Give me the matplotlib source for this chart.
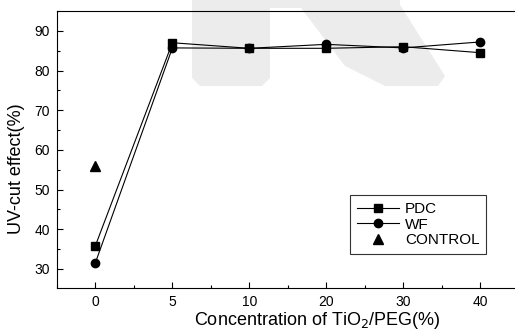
import matplotlib.pyplot as plt
from matplotlib.patches import Polygon
from matplotlib.ticker import MultipleLocator

plt.rcParams['font.family'] = ['Liberation Sans', 'DejaVu Sans']

# data
conc_labels = ['0', '5', '10', '20', '30', '40']
pdc = [35.9, 87.0, 85.6, 85.6, 86.0, 84.5]
wf = [31.6, 85.7, 85.6, 86.6, 85.7, 87.2]
control_x = [0]
control_y = [56.0]

W, H = 515, 331
fig = plt.figure(figsize=(W / 100, H / 100), dpi=100)

# faint watermark behind the chart (figure pixel coords, y from top)
def px(pts):
    return [(x / W, 1 - y / H) for x, y in pts]

grey = '#ececec'
shapes = [
    [(192, 0), (400, 0), (400, 8), (192, 8)],
    [(192, 0), (270, 0), (270, 78), (262, 86), (200, 86), (192, 78)],
    [(295, 0), (397, 0), (445, 76), (438, 86), (385, 86), (345, 66)],
]
for s in shapes:
    fig.patches.append(Polygon(px(s), closed=True, transform=fig.transFigure,
                               fc=grey, ec='none', zorder=-1))

ax = fig.add_axes([57 / W, (H - 288) / H, 461.5 / W, 277 / H])
ax.patch.set_alpha(0)

x = list(range(len(conc_labels)))
ax.plot(x, pdc, color='black', lw=0.8, marker='s', ms=5.5, label='PDC')
ax.plot(x, wf, color='black', lw=0.8, marker='o', ms=6, label='WF')
ax.plot(control_x, control_y, ls='none', color='black', marker='^', ms=6.5, label='CONTROL')

ax.set_xlim(-0.5, 5.5)
ax.set_ylim(25.2, 95)
ax.set_xticks(x)
ax.set_xticklabels(conc_labels)
ax.xaxis.set_minor_locator(MultipleLocator(0.5))
ax.yaxis.set_major_locator(MultipleLocator(10))
ax.yaxis.set_minor_locator(MultipleLocator(5))
ax.tick_params(which='both', direction='in', labelsize=10, width=0.8)
ax.tick_params(which='major', length=4, pad=5)
ax.tick_params(which='minor', length=2)
for s in ['left', 'bottom', 'top']:
    ax.spines[s].set_linewidth(0.8)
ax.spines['right'].set_visible(False)

ax.set_xlabel('Concentration of TiO$_2$/PEG(%)', fontsize=13)
ax.set_ylabel('UV-cut effect(%)', fontsize=13)
ax.xaxis.set_label_coords(0.565, -0.08)
ax.yaxis.set_label_coords(-0.069, 0.43)

leg = ax.legend(loc='lower left', bbox_to_anchor=((350 - 57) / 461.5, (288 - 254) / 277),
                fontsize=11, frameon=True, fancybox=False, edgecolor='black',
                handlelength=2.75, handletextpad=0.4, borderaxespad=0,
                labelspacing=0.1, borderpad=0.45)
leg.get_frame().set_linewidth(0.8)

fig.savefig('out.png', dpi=100)
